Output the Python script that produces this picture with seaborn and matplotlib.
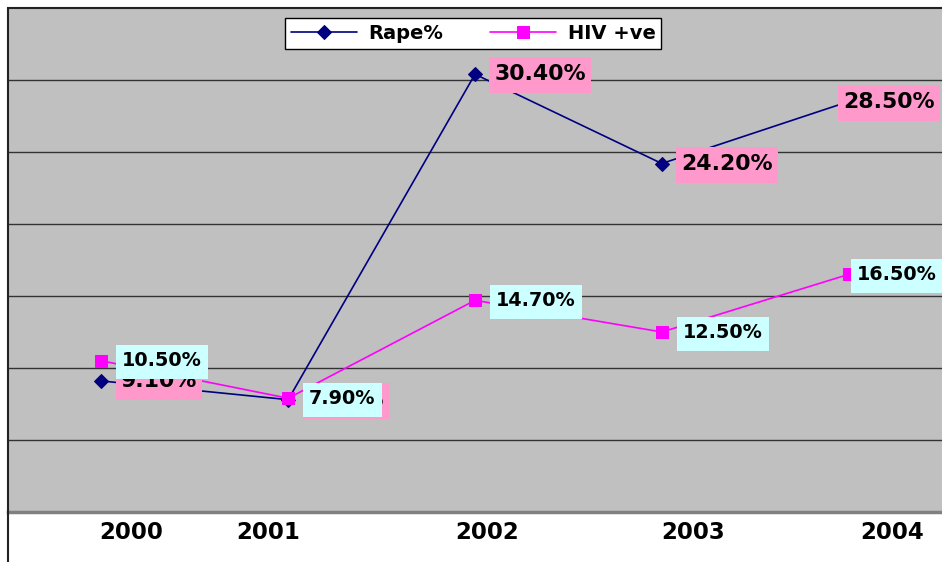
import numpy as np
import pandas as pd
import matplotlib
matplotlib.use("Agg")
import matplotlib.pyplot as plt
import matplotlib.transforms as mtransforms
from matplotlib.lines import Line2D
from matplotlib.path import Path
import seaborn as sns

years = ["2000", "2001", "2002", "2003", "2004"]
rape = [9.1, 7.8, 30.4, 24.2, 28.5]
hiv = [10.5, 7.9, 14.7, 12.5, 16.5]
rape_labels = ["9.10%", "7.80%", "30.40%", "24.20%", "28.50%"]
hiv_labels = ["10.50%", "7.90%", "14.70%", "12.50%", "16.50%"]

sns.set_style("white")
plt.rcParams["font.family"] = ["DejaVu Sans"]
plt.rcParams["font.weight"] = "bold"
plt.rcParams["text.color"] = "black"
plt.rcParams["xtick.color"] = "black"
plt.rcParams["xtick.labelcolor"] = "black"

W, H = 942, 562
fig = plt.figure(figsize=(W / 100, H / 100), dpi=100)
fig.patch.set_facecolor("white")
ax = fig.add_axes([8 / W, 1 - 512 / H, 1 - 8 / W, (512 - 8) / H])
ax.set_facecolor("#C0C0C0")

pos = np.arange(len(years))
df = pd.DataFrame({"pos": pos, "rape": rape, "hiv": hiv})

sns.lineplot(data=df, x="pos", y="rape", ax=ax, color="#000080", marker="D",
             markersize=7.5, markeredgecolor="#000080", linewidth=1.2,
             label="Rape%", zorder=3)
sns.lineplot(data=df, x="pos", y="hiv", ax=ax, color="#FF00FF", marker="s",
             markersize=8, markeredgecolor="#FF00FF", linewidth=1.2,
             label="HIV +ve", zorder=3)

ax.set_xlim(-0.5, 4.5)
ax.set_ylim(0, 35)
ax.set_yticks([5, 10, 15, 20, 25, 30])
ax.yaxis.grid(True, color="#333333", linewidth=1.0)
ax.set_axisbelow(True)
ax.tick_params(axis="y", left=False, labelleft=False)
ax.set_xlabel("")
ax.set_ylabel("")

ax.set_xticks(pos)
ax.set_xticklabels(years, fontsize=16.5, fontweight="bold", color="black")
ax.tick_params(axis="x", bottom=False, pad=3)
offs_px = [30, -20, 12, 31, 44]
for lbl, o in zip(ax.get_xticklabels(), offs_px):
    lbl.set_transform(lbl.get_transform() + mtransforms.ScaledTranslation(o / 100, 0, fig.dpi_scale_trans))

ax.spines["right"].set_visible(False)
ax.spines["top"].set_color("#222222")
ax.spines["top"].set_linewidth(1.5)
ax.spines["left"].set_visible(False)
ax.spines["bottom"].set_color("#808080")
ax.spines["bottom"].set_linewidth(2.5)

fig.add_artist(Line2D([8 / W, 8 / W], [0, 1 - 8 / H], color="#222222", linewidth=1.5,
                      transform=fig.transFigure))


def make_box(padx, pad_top, pad_bot):
    def box(x0, y0, width, height, mutation_size):
        xa, xb = x0 - padx, x0 + width + padx
        ya, yb = y0 - pad_bot, y0 + height + pad_top
        return Path([(xa, ya), (xb, ya), (xb, yb), (xa, yb), (xa, ya)], closed=True)
    return box


rape_off = [14, 14, 14, 14, -4]
for i, (v, t) in enumerate(zip(rape, rape_labels)):
    ax.annotate(t, (pos[i], v), xytext=(rape_off[i], 0), textcoords="offset points",
                ha="left", va="center", fontsize=15.8, fontweight="bold", color="black",
                bbox=dict(boxstyle=make_box(5, 7, 9), facecolor="#FF99CC", edgecolor="none"),
                zorder=5, annotation_clip=False)
hiv_off = [15, 15, 15, 15, 6]
for i, (v, t) in enumerate(zip(hiv, hiv_labels)):
    ax.annotate(t, (pos[i], v), xytext=(hiv_off[i], 0), textcoords="offset points",
                ha="left", va="center", fontsize=13.8, fontweight="bold", color="black",
                bbox=dict(boxstyle=make_box(6, 6, 9), facecolor="#CCFFFF", edgecolor="none"),
                zorder=6, annotation_clip=False)

leg = ax.legend(loc="upper center", bbox_to_anchor=(0.498, 0.980), ncol=2, frameon=True,
                fancybox=False, shadow=False, fontsize=14, handlelength=3.4,
                columnspacing=2.4, borderpad=0.3, handletextpad=0.6, borderaxespad=0,
                framealpha=1)
leg.get_frame().set_edgecolor("black")
leg.get_frame().set_facecolor("white")
leg.get_frame().set_linewidth(1.0)
for t in leg.get_texts():
    t.set_fontweight("bold")
    t.set_color("black")

fig.savefig("out.png", dpi=100)
